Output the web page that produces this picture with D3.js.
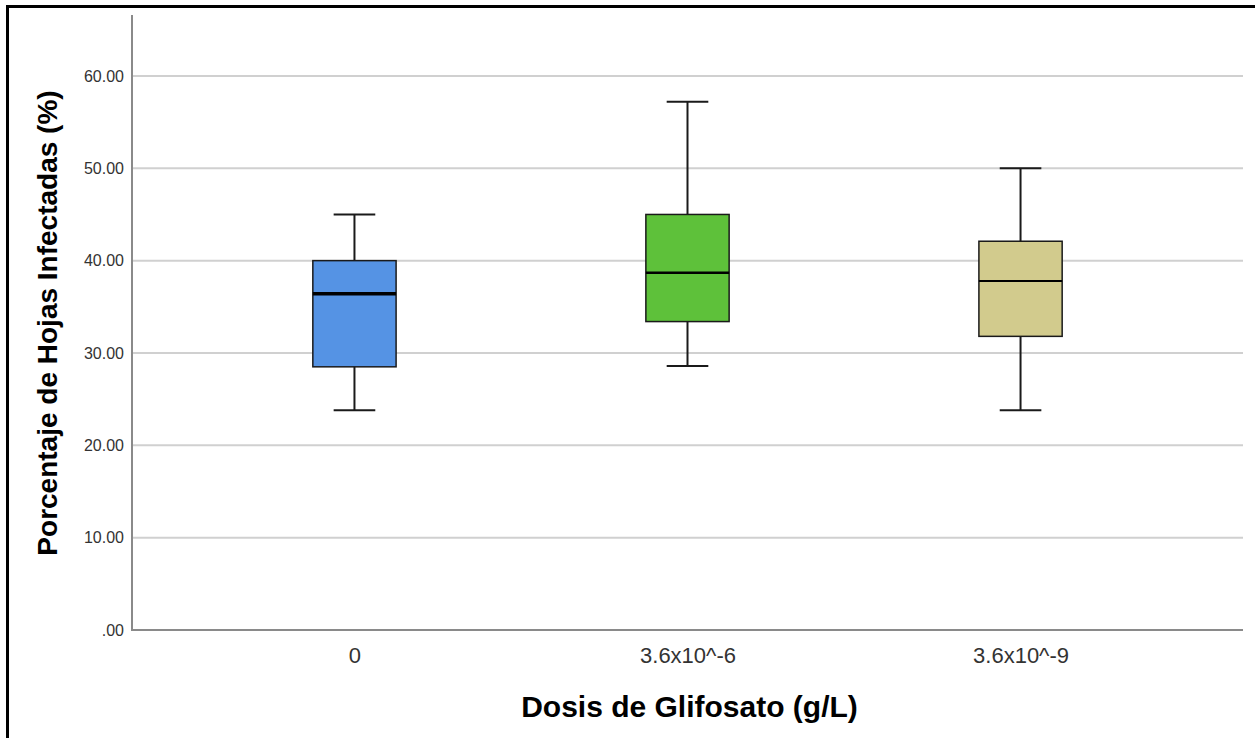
<!DOCTYPE html>
<html>
<head>
<meta charset="utf-8">
<script src="https://cdn.jsdelivr.net/npm/d3@7"></script>
<style>
  html, body { margin: 0; padding: 0; background: #fff; }
  svg { display: block; font-family: "Liberation Sans", Arial, sans-serif; }
</style>
</head>
<body>
<div id="chart"></div>
<script>
// categories and box statistics
var doses = ["0", "3.6x10^-6", "3.6x10^-9"];
var whiskerLow = [23.8, 28.6, 23.8];
var q1 = [28.5, 33.4, 31.8];
var median = [36.4, 38.7, 37.8];
var q3 = [40.0, 45.0, 42.1];
var whiskerHigh = [45.0, 57.2, 50.0];
var yTicks = [0, 10, 20, 30, 40, 50, 60];

var boxColors = ["#5593e4", "#5ec13a", "#d2cb8d"];
var medianWidths = [3.5, 2.5, 2];

var chartW = 1255, chartH = 738;
var plotLeft = 132, plotRight = 1243, plotTop = 15, plotBottom = 630;

var svg = d3.select("#chart").append("svg")
  .attr("width", chartW)
  .attr("height", chartH);

// outer frame (top and left edges only visible)
svg.append("line")
  .attr("x1", 7.5).attr("x2", chartW).attr("y1", 6.5).attr("y2", 6.5)
  .attr("stroke", "#000").attr("stroke-width", 3);
svg.append("line")
  .attr("x1", 7.5).attr("x2", 7.5).attr("y1", 5).attr("y2", chartH)
  .attr("stroke", "#000").attr("stroke-width", 3);

var x = d3.scalePoint().domain(doses).range([plotLeft, plotRight]).padding(0.668);
var y = d3.scaleLinear().domain([0, 66.6]).range([plotBottom, plotTop]);
var step = x.step();
var boxW = step * 0.25;
var capW = boxW / 2;

// gridlines
svg.append("g")
  .selectAll("line")
  .data(yTicks.filter(d => d > 0))
  .join("line")
  .attr("x1", plotLeft).attr("x2", plotRight)
  .attr("y1", d => y(d)).attr("y2", d => y(d))
  .attr("stroke", "#d0d0d0").attr("stroke-width", 2);

// y axis
var yAxis = svg.append("g")
  .attr("transform", "translate(" + plotLeft + ",0)")
  .call(d3.axisLeft(y).tickValues(yTicks).tickSize(0).tickPadding(8)
    .tickFormat(d => d === 0 ? ".00" : d3.format(".2f")(d)));
yAxis.select(".domain").remove();
yAxis.selectAll("text")
  .attr("font-size", 16).attr("fill", "#333")
  .attr("font-family", "Liberation Sans, Arial, sans-serif");

svg.append("line")
  .attr("x1", plotLeft).attr("x2", plotLeft).attr("y1", plotTop).attr("y2", plotBottom + 1)
  .attr("stroke", "#8a8a8a").attr("stroke-width", 2);

// x axis
var xAxis = svg.append("g")
  .attr("transform", "translate(0," + plotBottom + ")")
  .call(d3.axisBottom(x).tickSize(0).tickPadding(17));
xAxis.select(".domain").remove();
xAxis.selectAll("text")
  .attr("font-size", 22).attr("fill", "#333")
  .attr("font-family", "Liberation Sans, Arial, sans-serif");

svg.append("line")
  .attr("x1", plotLeft - 1).attr("x2", plotRight).attr("y1", plotBottom).attr("y2", plotBottom)
  .attr("stroke", "#8a8a8a").attr("stroke-width", 2);

// boxes
var boxes = svg.append("g")
  .selectAll("g")
  .data(doses)
  .join("g");

boxes.each(function(d, i) {
  var g = d3.select(this);
  var cx = x(d);

  // whiskers
  g.append("line")
    .attr("x1", cx).attr("x2", cx)
    .attr("y1", y(whiskerHigh[i])).attr("y2", y(q3[i]))
    .attr("stroke", "#1a1a1a").attr("stroke-width", 2);
  g.append("line")
    .attr("x1", cx).attr("x2", cx)
    .attr("y1", y(q1[i])).attr("y2", y(whiskerLow[i]))
    .attr("stroke", "#1a1a1a").attr("stroke-width", 2);

  // caps
  [whiskerHigh[i], whiskerLow[i]].forEach(v => {
    g.append("line")
      .attr("x1", cx - capW / 2).attr("x2", cx + capW / 2)
      .attr("y1", y(v)).attr("y2", y(v))
      .attr("stroke", "#1a1a1a").attr("stroke-width", 2);
  });

  // box
  g.append("rect")
    .attr("x", cx - boxW / 2)
    .attr("y", y(q3[i]))
    .attr("width", boxW)
    .attr("height", y(q1[i]) - y(q3[i]))
    .attr("fill", boxColors[i])
    .attr("stroke", "#1a1a1a").attr("stroke-width", 1.5);

  // median
  g.append("line")
    .attr("x1", cx - boxW / 2).attr("x2", cx + boxW / 2)
    .attr("y1", y(median[i])).attr("y2", y(median[i]))
    .attr("stroke", "#000").attr("stroke-width", medianWidths[i]);
});

// axis titles
svg.append("text")
  .attr("x", (plotLeft + plotRight) / 2 + 2)
  .attr("y", 717)
  .attr("text-anchor", "middle")
  .attr("font-size", 30).attr("font-weight", "bold")
  .attr("fill", "#000")
  .text("Dosis de Glifosato (g/L)");

svg.append("text")
  .attr("transform", "translate(57,323) rotate(-90)")
  .attr("text-anchor", "middle")
  .attr("font-size", 28).attr("font-weight", "bold")
  .attr("fill", "#000")
  .text("Porcentaje de Hojas Infectadas (%)");
</script>
</body>
</html>
